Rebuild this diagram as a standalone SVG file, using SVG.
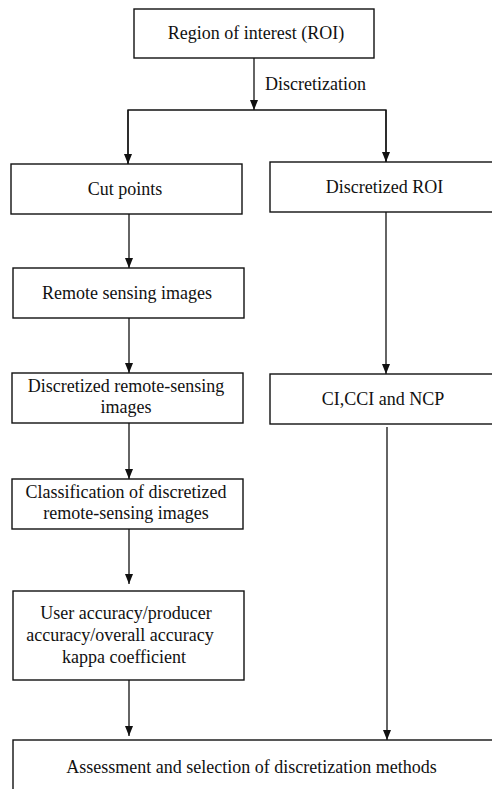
<svg xmlns="http://www.w3.org/2000/svg" width="492" height="789" viewBox="0 0 492 789">
<style>
.box{fill:#fff;stroke:#111;stroke-width:1.4}
.t{font-family:"Liberation Serif","Times New Roman",serif;font-size:18px;fill:#111;text-anchor:middle}
.c{fill:none;stroke:#111;stroke-width:1.3}
</style>
<defs>
<marker id="ah" markerUnits="userSpaceOnUse" markerWidth="10" markerHeight="8" viewBox="0 0 10 8" refX="10" refY="4" orient="auto">
<path d="M0,0 L10,4 L0,8 Z" fill="#111"/>
</marker>
</defs>
<rect width="492" height="789" fill="#fff"/>
<g id="connectors">
<line class="c" x1="254" y1="58" x2="254" y2="110" marker-end="url(#ah)"/>
<polyline class="c" points="128,164 128,110 386,110 386,162" fill="none"/>
<line class="c" x1="128" y1="110" x2="128" y2="164" marker-end="url(#ah)"/>
<line class="c" x1="386" y1="110" x2="386" y2="162" marker-end="url(#ah)"/>
<line class="c" x1="129" y1="214" x2="129" y2="268" marker-end="url(#ah)"/>
<line class="c" x1="129" y1="318" x2="129" y2="373" marker-end="url(#ah)"/>
<line class="c" x1="386" y1="212" x2="386" y2="374" marker-end="url(#ah)"/>
<line class="c" x1="129" y1="423" x2="129" y2="479" marker-end="url(#ah)"/>
<line class="c" x1="129" y1="529" x2="129" y2="584" marker-end="url(#ah)"/>
<line class="c" x1="387" y1="427" x2="387" y2="740" marker-end="url(#ah)"/>
<line class="c" x1="129" y1="680" x2="129" y2="736" marker-end="url(#ah)"/>
<text class="t" x="265" y="90" style="text-anchor:start">Discretization</text>
</g>
<g id="roi">
<rect class="box" x="134" y="9" width="240" height="49"/>
<text class="t" x="256" y="39">Region of interest (ROI)</text>
</g>
<g id="cut-points">
<rect class="box" x="11" y="164" width="231" height="50"/>
<text class="t" x="125" y="195">Cut points</text>
</g>
<g id="discretized-roi">
<rect class="box" x="270" y="162" width="229" height="50"/>
<text class="t" x="384.5" y="193">Discretized ROI</text>
</g>
<g id="remote-sensing">
<rect class="box" x="13" y="268" width="231" height="50"/>
<text class="t" x="127" y="299">Remote sensing images</text>
</g>
<g id="discretized-rs">
<rect class="box" x="12" y="373" width="231" height="50"/>
<text class="t" x="126" y="392">Discretized remote-sensing</text>
<text class="t" x="126" y="413">images</text>
</g>
<g id="ci-cci-ncp">
<rect class="box" x="270" y="374" width="229" height="50"/>
<text class="t" x="383" y="405">CI,CCI and NCP</text>
</g>
<g id="classification">
<rect class="box" x="12" y="479" width="231" height="50"/>
<text class="t" x="126" y="498">Classification of discretized</text>
<text class="t" x="126" y="519">remote-sensing images</text>
</g>
<g id="accuracy">
<rect class="box" x="13" y="591" width="231" height="89"/>
<text class="t" x="126" y="619">User accuracy/producer</text>
<text class="t" x="120" y="641">accuracy/overall accuracy</text>
<text class="t" x="124" y="663">kappa coefficient</text>
</g>
<g id="assessment">
<rect class="box" x="13" y="740" width="484" height="60"/>
<text class="t" x="251.5" y="773">Assessment and selection of discretization methods</text>
</g>
</svg>
